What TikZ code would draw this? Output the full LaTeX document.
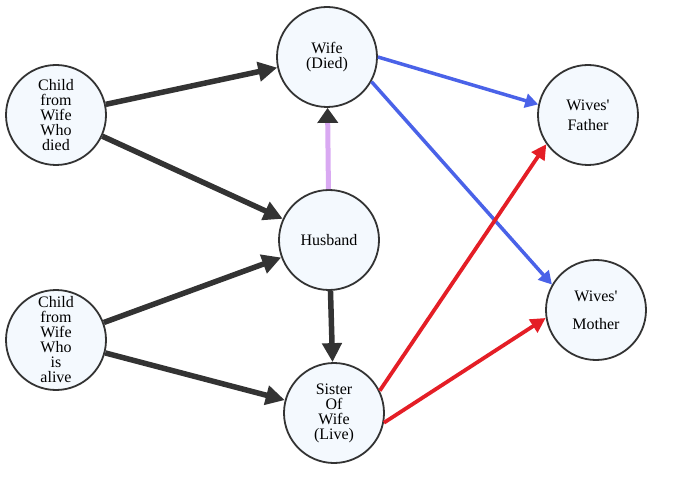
\documentclass[tikz,border=0pt]{standalone}
\usepackage{fontspec}
\setmainfont{Liberation Serif}
\newfontfamily\personfont{Liberation Serif}
\usepackage{xcolor}
\usepackage{tikz}
\usetikzlibrary{arrows.meta}
\definecolor{nodefill}{HTML}{F4F9FE}
\definecolor{rimgray}{HTML}{333333}
\definecolor{darkline}{HTML}{333333}
\definecolor{lilac}{HTML}{D9A9F2}
\definecolor{kinblue}{HTML}{4A62E8}
\definecolor{kinred}{HTML}{E41E26}
\tikzstyle{person} = [circle,draw=rimgray,line width=1.8pt,fill=nodefill,minimum size=100pt,inner sep=0pt,align=center,font=\personfont\fontsize{16}{15}\selectfont]
\tikzstyle{darkarrow} = [draw=darkline,line width=5.5pt,-{Triangle[length=19pt,width=19pt]}]
\tikzstyle{lilacarrow} = [draw=lilac,line width=5pt,-{Triangle[length=15pt,width=20pt,color=darkline]}]
\tikzstyle{bluearrow} = [draw=kinblue,line width=3.5pt,-{Triangle[length=13pt,width=14pt]}]
\tikzstyle{redarrow} = [draw=kinred,line width=3.8pt,-{Triangle[length=15pt,width=15pt]}]

\begin{document}
\begin{tikzpicture}[x=1pt,y=-1pt]
          \useasboundingbox (0,0) rectangle (674,486);
          % people
          \node[person] (childdied) at (56,115) {Child\\from\\Wife\\Who\\died};
          \node[person] (childalive) at (56,340) {Child\\from\\Wife\\Who\\is\\alive};
          \node[person] (wife) at (327,57) {Wife\\(Died)};
          \node[person] (husband) at (329,240) {Husband};
          \node[person] (sister) at (334,413) {Sister\\Of\\Wife\\(Live)};
          \node[person] (father) at (588,115) {Wives\textquotesingle\\[5pt]Father};
          \node[person] (mother) at (596,310) {Wives\textquotesingle\\[13pt]Mother};

          % relations
          \draw[darkarrow] (childdied) -- (wife);
          \draw[darkarrow] (childdied) -- (husband);
          \draw[darkarrow] (childalive) -- (husband);
          \draw[darkarrow] (childalive) -- (sister);
          \draw[darkarrow] (husband) -- (sister);
          \draw[lilacarrow] (husband) -- (wife);

          \draw[bluearrow] (wife.0) -- (father.168);
          \draw[bluearrow] (wife.-29) -- (mother.150);
          \draw[redarrow] (sister.26) -- (father.215);
          \draw[redarrow] (sister.-11) -- (mother.189);
\end{tikzpicture}
\end{document}
